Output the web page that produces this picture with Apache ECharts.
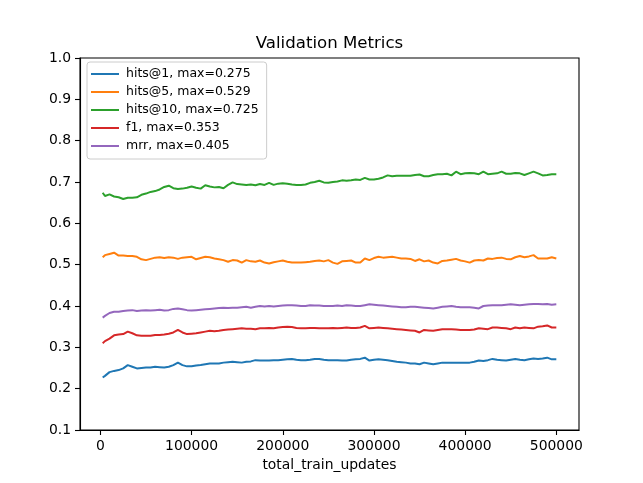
<!DOCTYPE html>
<html>
<head>
<meta charset="utf-8">
<script src="https://cdn.jsdelivr.net/npm/echarts@6/dist/echarts.min.js"></script>
<style>
html,body{margin:0;padding:0;background:#fff;}
#chart{width:643px;height:483px;}
</style>
</head>
<body>
<div id="chart"></div>
<script>
const steps = [2500,5000,10000,15000,20000,25000,30000,35000,40000,45000,50000,55000,60000,65000,70000,75000,80000,85000,90000,95000,100000,105000,110000,115000,120000,125000,130000,135000,140000,145000,150000,155000,160000,165000,170000,175000,180000,185000,190000,195000,200000,205000,210000,215000,220000,225000,230000,235000,240000,245000,250000,255000,260000,265000,270000,275000,280000,285000,290000,295000,300000,305000,310000,315000,320000,325000,330000,335000,340000,345000,350000,355000,360000,365000,370000,375000,380000,385000,390000,395000,400000,405000,410000,415000,420000,425000,430000,435000,440000,445000,450000,455000,460000,465000,470000,475000,480000,485000,490000,495000,500000];

const hits1 = [0.227,0.231,0.240,0.243,0.245,0.249,0.257,0.253,0.249,0.250,0.251,0.251,0.253,0.252,0.251,0.253,0.257,0.263,0.257,0.254,0.254,0.256,0.257,0.259,0.261,0.261,0.261,0.263,0.264,0.265,0.264,0.263,0.265,0.266,0.269,0.268,0.268,0.268,0.269,0.269,0.270,0.271,0.272,0.270,0.269,0.269,0.270,0.272,0.272,0.270,0.269,
0.269,0.269,0.268,0.268,0.270,0.271,0.272,0.275,0.268,0.270,0.271,0.270,0.269,0.267,0.265,0.264,0.263,0.261,0.261,0.259,0.263,0.261,0.259,0.261,0.263,0.263,0.263,0.263,0.263,0.263,0.263,0.265,0.268,0.267,0.269,0.272,0.270,0.269,0.268,0.270,0.272,0.270,0.269,0.271,0.273,0.272,0.273,0.275,0.271,0.271];

const hits5 = [0.518,0.523,0.526,0.529,0.522,0.522,0.521,0.521,0.519,0.513,0.511,0.514,0.517,0.518,0.516,0.518,0.517,0.514,0.517,0.518,0.519,0.513,0.516,0.519,0.518,0.515,0.513,0.511,0.507,0.511,0.510,0.505,0.511,0.508,0.507,0.510,0.505,0.503,0.506,0.508,0.510,0.507,0.505,0.505,0.505,0.506,0.507,0.509,0.510,0.508,0.511,
0.505,0.502,0.508,0.509,0.510,0.505,0.505,0.515,0.511,0.516,0.519,0.517,0.518,0.519,0.517,0.515,0.515,0.514,0.509,0.513,0.508,0.510,0.505,0.503,0.509,0.510,0.512,0.514,0.510,0.508,0.505,0.510,0.511,0.510,0.515,0.514,0.516,0.517,0.514,0.513,0.518,0.521,0.518,0.520,0.523,0.515,0.515,0.515,0.518,0.515];

const hits10 = [0.674,0.666,0.670,0.665,0.663,0.659,0.662,0.662,0.663,0.669,0.672,0.676,0.678,0.682,0.688,0.691,0.685,0.683,0.684,0.686,0.689,0.686,0.684,0.692,0.689,0.687,0.688,0.685,0.693,0.699,0.695,0.694,0.693,0.694,0.692,0.695,0.693,0.698,0.693,0.696,0.697,0.696,0.694,0.693,0.693,0.694,0.698,0.700,0.703,0.699,0.698,
0.700,0.701,0.704,0.703,0.704,0.706,0.705,0.710,0.706,0.706,0.708,0.711,0.716,0.714,0.715,0.715,0.715,0.715,0.717,0.718,0.714,0.714,0.717,0.719,0.719,0.720,0.716,0.725,0.719,0.721,0.722,0.721,0.719,0.725,0.719,0.720,0.721,0.725,0.720,0.720,0.722,0.721,0.717,0.721,0.725,0.721,0.716,0.717,0.719,0.719];

const f1 = [0.310,0.315,0.321,0.329,0.331,0.332,0.338,0.334,0.329,0.328,0.328,0.328,0.330,0.330,0.331,0.333,0.336,0.342,0.336,0.332,0.333,0.334,0.336,0.338,0.340,0.339,0.340,0.342,0.343,0.344,0.345,0.346,0.345,0.345,0.344,0.346,0.346,0.347,0.346,0.348,0.349,0.350,0.349,0.347,0.346,0.346,0.347,0.347,0.346,0.346,0.346,
0.347,0.346,0.347,0.348,0.347,0.347,0.348,0.352,0.346,0.347,0.348,0.347,0.346,0.345,0.344,0.343,0.342,0.341,0.340,0.336,0.342,0.341,0.340,0.342,0.344,0.344,0.344,0.343,0.342,0.342,0.342,0.343,0.346,0.345,0.344,0.348,0.348,0.347,0.346,0.344,0.348,0.346,0.348,0.347,0.346,0.350,0.351,0.353,0.348,0.348];

const mrr = [0.372,0.376,0.383,0.386,0.386,0.388,0.389,0.390,0.388,0.389,0.390,0.389,0.390,0.391,0.389,0.390,0.393,0.394,0.392,0.390,0.389,0.390,0.391,0.392,0.393,0.394,0.395,0.396,0.395,0.396,0.396,0.397,0.398,0.396,0.398,0.400,0.399,0.400,0.399,0.400,0.401,0.402,0.402,0.401,0.400,0.400,0.402,0.401,0.401,0.400,0.400,
0.400,0.401,0.400,0.402,0.401,0.400,0.400,0.402,0.404,0.403,0.402,0.401,0.400,0.399,0.398,0.397,0.397,0.398,0.398,0.397,0.396,0.395,0.394,0.396,0.398,0.399,0.400,0.398,0.397,0.397,0.397,0.396,0.394,0.400,0.401,0.402,0.402,0.402,0.403,0.404,0.403,0.402,0.403,0.404,0.405,0.405,0.404,0.405,0.403,0.404];

const seriesNames = ['hits@1, max=0.275','hits@5, max=0.529','hits@10, max=0.725','f1, max=0.353','mrr, max=0.405'];
const seriesValues = [hits1, hits5, hits10, f1, mrr];
const colors = ['#1f77b4','#ff7f0e','#2ca02c','#d62728','#9467bd'];
const xTicks = [0,100000,200000,300000,400000,500000];
const chartTitle = 'Validation Metrics';
const xName = 'total_train_updates';

const font = 'DejaVu Sans';
const chart = echarts.init(document.getElementById('chart'), null, {renderer:'canvas'});

chart.setOption({
  animation:false,
  backgroundColor:'#fff',
  graphic:[{
    type:'text', x:329.5, y:44,
    style:{text:chartTitle, fontFamily:font, fontSize:16.6, fill:'#000', align:'center', verticalAlign:'middle'}
  }],
  legend:{
    orient:'vertical',
    left:87, top:62,
    data:seriesNames,
    icon:'rect',
    itemWidth:28, itemHeight:2, itemGap:4,
    padding:[5,8,6,4],
    backgroundColor:'rgba(255,255,255,0.8)',
    borderColor:'#cccccc', borderWidth:1, borderRadius:3,
    textStyle:{fontFamily:font,fontSize:12.5,color:'#000',lineHeight:14, padding:[0,0,0,2]}
  },
  grid:{left:80,right:64,top:58,bottom:53,show:true,borderColor:'#000',borderWidth:1.1,backgroundColor:'transparent'},
  xAxis:{
    type:'value', min:-22375, max:524875,
    name:xName, nameLocation:'middle', nameGap:28,
    nameTextStyle:{fontFamily:font,fontSize:13.9,color:'#000'},
    axisLine:{show:true,onZero:false,lineStyle:{color:'#000',width:1.1}},
    axisTick:{show:true,length:5,lineStyle:{color:'#000',width:1.1},customValues:xTicks},
    axisLabel:{fontFamily:font,fontSize:13.9,color:'#000',margin:9,customValues:xTicks,formatter:v=>String(v)},
    splitLine:{show:false}
  },
  yAxis:{
    type:'value', min:0.1, max:1.0, interval:0.1,
    axisLine:{show:true,onZero:false,lineStyle:{color:'#000',width:1.1}},
    axisTick:{show:true,length:5,lineStyle:{color:'#000',width:1.1}},
    axisLabel:{fontFamily:font,fontSize:13.9,color:'#000',margin:9,formatter:v=>v.toFixed(1)},
    splitLine:{show:false}
  },
  series: seriesValues.map((vals,k)=>({
    name:seriesNames[k],
    type:'line',
    data:steps.map((s,i)=>[s,vals[i]]),
    showSymbol:false,
    symbol:'none',
    lineStyle:{color:colors[k],width:2},
    itemStyle:{color:colors[k]},
    emphasis:{disabled:true}
  }))
});
</script>
</body>
</html>
